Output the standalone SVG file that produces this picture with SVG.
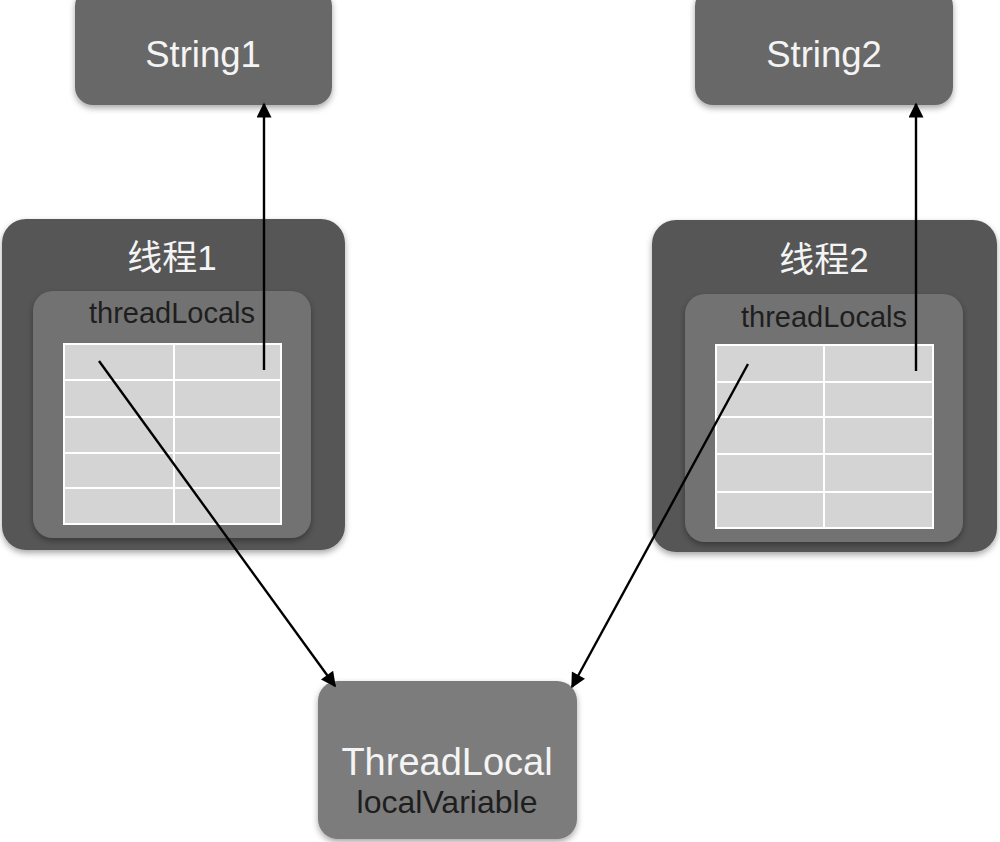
<svg xmlns="http://www.w3.org/2000/svg" width="1000" height="842" viewBox="0 0 1000 842">
<defs>
<filter id="sh" x="-10%" y="-10%" width="120%" height="130%">
<feDropShadow dx="0" dy="3" stdDeviation="3" flood-color="#000" flood-opacity="0.35"/>
</filter>
<marker id="ah" viewBox="0 0 10 10" refX="9" refY="5" markerWidth="16" markerHeight="15" markerUnits="userSpaceOnUse" orient="auto">
<path d="M0,0 L10,5 L0,10 z" fill="#000"/>
</marker>
<style>
.node{fill:#686868;filter:url(#sh)}
.outer{fill:#575757;filter:url(#sh)}
.inner{fill:#727272;filter:url(#sh)}
.tl{fill:#7b7b7b;filter:url(#sh)}
.tab{fill:#d4d4d4;stroke:#fff;stroke-width:2}
.grid{stroke:#fff;stroke-width:2}
.wt{font-family:"Liberation Sans","Noto Sans CJK SC",sans-serif;fill:#f4f4f4;text-anchor:middle}
.dt{font-family:"Liberation Sans","Noto Sans CJK SC",sans-serif;fill:#1e1e1e;text-anchor:middle}
.conn{stroke:#000;stroke-width:2.4;fill:none;marker-end:url(#ah)}
</style>
</defs>
<rect width="1000" height="842" fill="#fff"/>
<g id="string1">
<rect class="node" x="75" y="-12" width="257" height="117" rx="18"/>
<text class="wt" x="203" y="67" font-size="36.5">String1</text>
</g>
<g id="string2">
<rect class="node" x="695" y="-12" width="258" height="117" rx="18"/>
<text class="wt" x="824" y="67" font-size="36.5">String2</text>
</g>
<g id="thread1">
<rect class="outer" x="2" y="219" width="343" height="331" rx="24"/>
<text class="wt" x="172" y="270" font-size="35">线程1</text>
<rect class="inner" x="33" y="291" width="278" height="247" rx="20"/>
<text class="dt" x="172" y="323" font-size="29">threadLocals</text>
<rect class="tab" x="64" y="344" width="217" height="180"/>
<path class="grid" d="M174,344 V524 M64,380 H281 M64,417 H281 M64,453 H281 M64,488 H281"/>
</g>
<g id="thread2">
<rect class="outer" x="652" y="220" width="345" height="332" rx="24"/>
<text class="wt" x="824" y="272" font-size="35">线程2</text>
<rect class="inner" x="685" y="294" width="278" height="248" rx="20"/>
<text class="dt" x="824" y="327" font-size="29">threadLocals</text>
<rect class="tab" x="716" y="345" width="217" height="183"/>
<path class="grid" d="M824,345 V528 M716,382 H933 M716,417 H933 M716,454 H933 M716,492 H933"/>
</g>
<g id="threadlocal">
<rect class="tl" x="318" y="681" width="259" height="158" rx="20"/>
<text class="wt" x="447" y="775" font-size="38">ThreadLocal</text>
<text class="dt" x="447" y="813" font-size="32">localVariable</text>
</g>
<g id="connectors">
<line class="conn" x1="264" y1="370" x2="264" y2="104"/>
<line class="conn" x1="916" y1="371" x2="916" y2="104"/>
<line class="conn" x1="99" y1="361" x2="335" y2="686"/>
<line class="conn" x1="748" y1="364" x2="572" y2="687"/>
</g>
</svg>
